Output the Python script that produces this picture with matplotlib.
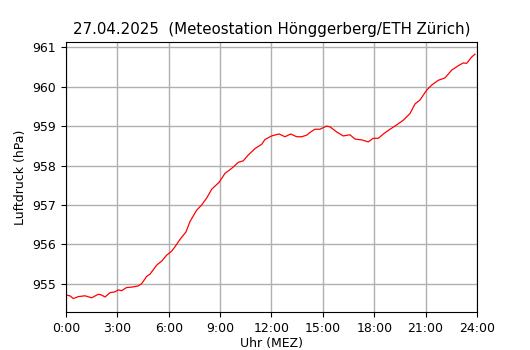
import matplotlib
matplotlib.use("Agg")
import matplotlib.pyplot as plt

# Stunden (MEZ) und Luftdruck in hPa
hours = [0.0, 0.23, 0.43, 0.72, 1.11, 1.50, 1.89, 2.08, 2.28, 2.57, 2.86, 3.05,
         3.25, 3.54, 3.84, 4.22, 4.42, 4.71, 4.91, 5.30, 5.59, 5.88, 6.17, 6.36,
         6.66, 7.01, 7.24, 7.63, 7.92, 8.22, 8.51, 8.95, 9.28, 9.68, 10.06, 10.35,
         10.65, 11.04, 11.43, 11.62, 12.01, 12.44, 12.79, 13.12, 13.47, 13.76,
         14.06, 14.25, 14.54, 14.83, 15.22, 15.42, 15.81, 16.19, 16.58, 16.88,
         17.27, 17.65, 17.94, 18.24, 18.53, 18.92, 19.31, 19.70, 20.09, 20.38,
         20.67, 21.06, 21.36, 21.74, 22.13, 22.53, 22.91, 23.20, 23.40, 23.69, 23.88]
pressure = [954.72, 954.70, 954.63, 954.68, 954.70, 954.65, 954.74, 954.72, 954.67,
            954.78, 954.80, 954.85, 954.83, 954.91, 954.92, 954.95, 955.01, 955.19,
            955.25, 955.48, 955.58, 955.73, 955.83, 955.94, 956.13, 956.32, 956.58,
            956.87, 957.00, 957.18, 957.40, 957.58, 957.80, 957.93, 958.08, 958.12,
            958.27, 958.43, 958.54, 958.66, 958.75, 958.80, 958.73, 958.80, 958.73,
            958.73, 958.77, 958.84, 958.92, 958.92, 959.00, 958.98, 958.85, 958.75,
            958.78, 958.67, 958.65, 958.60, 958.69, 958.69, 958.80, 958.92, 959.03,
            959.15, 959.32, 959.56, 959.66, 959.91, 960.04, 960.16, 960.22, 960.42,
            960.53, 960.60, 960.59, 960.75, 960.82]

xticks = [0, 3, 6, 9, 12, 15, 18, 21, 24]
xticklabels = ["0:00", "3:00", "6:00", "9:00", "12:00", "15:00", "18:00", "21:00", "24:00"]
yticks = [955, 956, 957, 958, 959, 960, 961]

fig = plt.figure(figsize=(5.3, 3.5), dpi=100)
ax = fig.add_axes([0.1245, 0.1086, 0.7755, 0.7714])
ax.plot(hours, pressure, color="red", linewidth=0.9)
ax.set_xlim(0, 24)
ax.set_ylim(954.29, 961.13)
ax.set_xticks(xticks)
ax.set_xticklabels(xticklabels, fontsize=9)
ax.set_yticks(yticks)
ax.set_yticklabels([str(v) for v in yticks], fontsize=9)
ax.grid(True, color="#b0b0b0", linewidth=1.0)
ax.set_axisbelow(True)
ax.set_xlabel("Uhr (MEZ)", fontsize=9, labelpad=2)
ax.set_ylabel("Luftdruck (hPa)", fontsize=9)
ax.set_title("27.04.2025  (Meteostation Hönggerberg/ETH Zürich)", fontsize=10.8)

fig.savefig("out.png", dpi=100)
